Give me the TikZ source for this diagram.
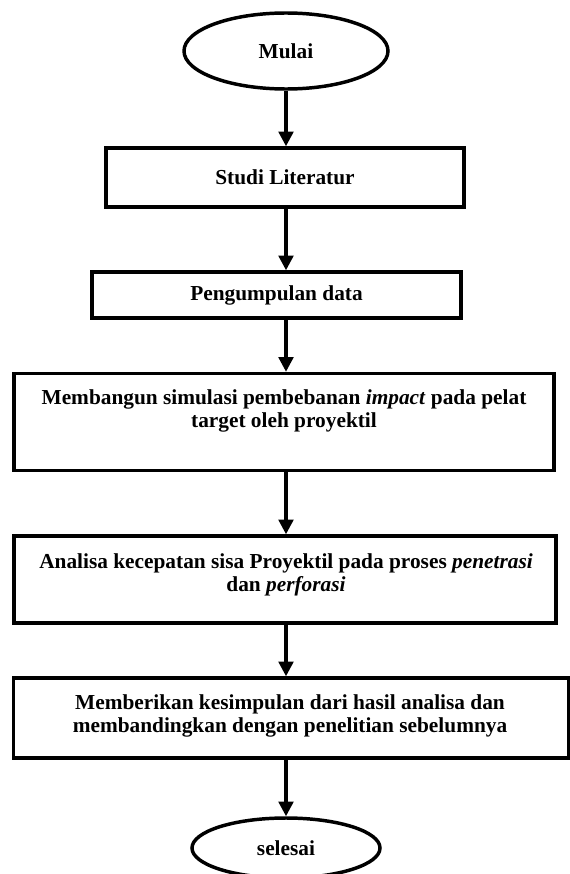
\documentclass[tikz,border=0pt]{standalone}
\usepackage{fontspec}
\setmainfont{Liberation Serif}
\usepackage{tikz}
\usetikzlibrary{shapes.geometric,arrows.meta}

\begin{document}
\begin{tikzpicture}[x=0.75pt,y=0.75pt,yscale=-1,xscale=1,
    flowbox/.style={draw,rectangle,line width=2.6pt,inner sep=0pt},
    flowend/.style={draw,ellipse,line width=2.6pt,inner sep=0pt},
    flowarrow/.style={line width=2.4pt,-{Triangle[width=11pt,length=11pt]}},
    flowtext/.style={inner sep=0.75pt,align=center,font=\fontsize{16}{17.5}\selectfont\bfseries}]
    %set diagram size 570 x 874
    \useasboundingbox (0,0) rectangle (570,874);

    %Shape: Ellipse
    \node [flowend,minimum width=153pt,minimum height=57pt] (mulai) at (286,51) {};
    %Shape: Rectangle
    \node [flowbox,minimum width=268.5pt,minimum height=44.25pt] (studi) at (285,177.5) {};
    %Shape: Rectangle
    \node [flowbox,minimum width=276.75pt,minimum height=34.5pt] (kumpul) at (276.5,295) {};
    %Shape: Rectangle
    \node [flowbox,minimum width=405pt,minimum height=72.75pt] (bangun) at (284,422) {};
    %Shape: Rectangle
    \node [flowbox,minimum width=406.5pt,minimum height=65.25pt] (analisa) at (285,579.5) {};
    %Shape: Rectangle
    \node [flowbox,minimum width=416.25pt,minimum height=60pt] (simpul) at (291,718) {};
    %Shape: Ellipse
    \node [flowend,minimum width=141pt,minimum height=45pt] (selesai) at (286,848) {};

    %Straight Lines
    \draw [flowarrow] (mulai) -- (mulai |- studi.north);
    %Straight Lines
    \draw [flowarrow] (studi.south -| mulai) -- (kumpul.north -| mulai);
    %Straight Lines
    \draw [flowarrow] (kumpul.south -| mulai) -- (bangun.north -| mulai);
    %Straight Lines
    \draw [flowarrow] (bangun.south -| mulai) -- (analisa.north -| mulai);
    %Straight Lines
    \draw [flowarrow] (analisa.south -| mulai) -- (simpul.north -| mulai);
    %Straight Lines
    \draw [flowarrow] (simpul.south -| mulai) -- (selesai);

    % Text Node
    \node [flowtext] (tmulai) at (mulai) {Mulai};
    % Text Node
    \node [flowtext] (tstudi) at (studi) {Studi Literatur};
    % Text Node
    \node [flowtext] (tkumpul) at (kumpul) {Pengumpulan data};
    % Text Node
    \node [flowtext] (tbangun) at (284,411) {Membangun simulasi pembebanan \textit{impact} pada pelat\\target oleh proyektil};
    % Text Node
    \node [flowtext] (tanalisa) at (286,575) {Analisa kecepatan sisa Proyektil pada proses \textit{penetrasi}\\dan \textit{perforasi}};
    % Text Node
    \node [flowtext] (tsimpul) at (290,716) {Memberikan kesimpulan dari hasil analisa dan\\membandingkan dengan penelitian sebelumnya};
    % Text Node
    \node [flowtext] (tselesai) at (selesai) {selesai};

\end{tikzpicture}
\end{document}
